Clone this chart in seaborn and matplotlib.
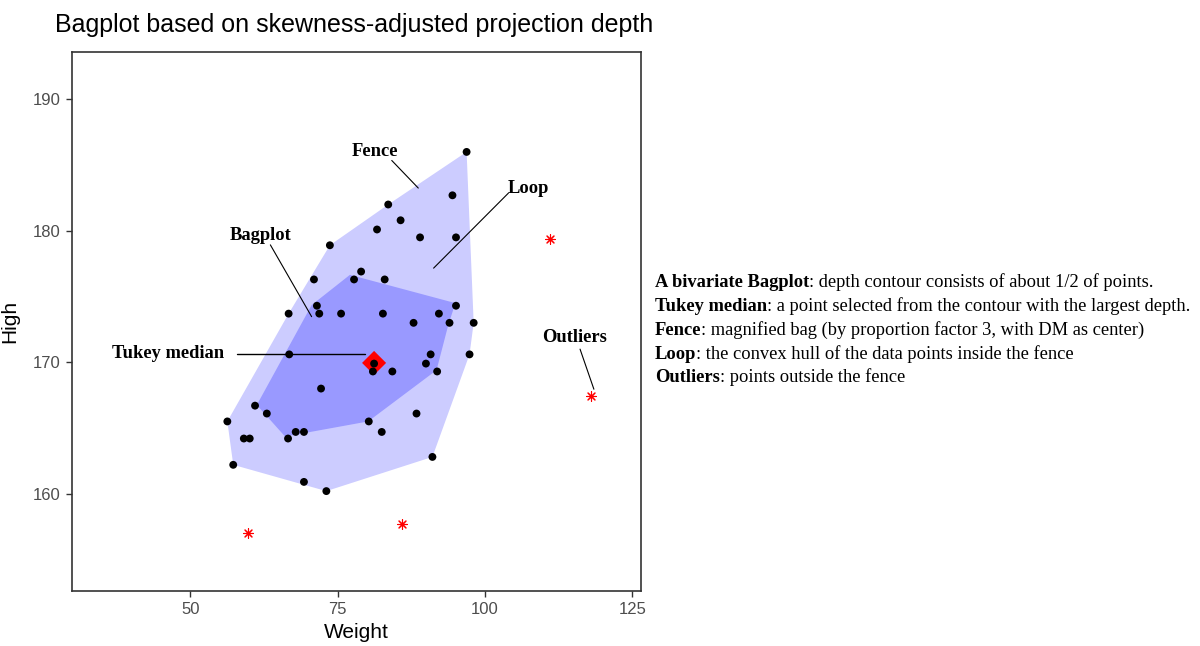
import numpy as np
import pandas as pd
import matplotlib
matplotlib.use("Agg")
import matplotlib.pyplot as plt
import seaborn as sns

# ---------------- data ----------------
weight = [96.9, 94.5, 83.6, 85.7, 81.7, 89.0, 95.1, 73.7, 79.0, 77.8,
          83.0, 71.0, 95.1, 71.5, 66.7, 71.9, 75.6, 82.7, 92.2, 87.9,
          94.0, 98.1, 66.8, 90.8, 97.4, 81.2, 81.0, 84.3, 90.0, 91.9,
          72.2, 61.0, 63.0, 56.3, 80.3, 88.4, 67.9, 69.3, 82.5, 59.1,
          60.1, 66.6, 57.3, 91.1, 69.3, 73.1]
high = [186.0, 182.7, 182.0, 180.8, 180.1, 179.5, 179.5, 178.9, 176.9, 176.3,
        176.3, 176.3, 174.3, 174.3, 173.7, 173.7, 173.7, 173.7, 173.7, 173.0,
        173.0, 173.0, 170.6, 170.6, 170.6, 169.9, 169.3, 169.3, 169.9, 169.3,
        168.0, 166.7, 166.1, 165.5, 165.5, 166.1, 164.7, 164.7, 164.7, 164.2,
        164.2, 164.2, 162.2, 162.8, 160.9, 160.2]

outlier_weight = [111.1, 118.0, 59.8, 85.9]
outlier_high = [179.4, 167.4, 157.0, 157.7]

median_weight = [81.2]
median_high = [169.95]

bag_weight = [77.1, 95.0, 93.8, 91.8, 80.2, 66.1, 61.3, 70.6]
bag_high = [176.65, 174.5, 172.85, 169.4, 165.5, 164.35, 166.75, 174.35]

title = "Bagplot based on skewness-adjusted projection depth"
legend_bold = ["A bivariate Bagplot", "Tukey median", "Fence", "Loop", "Outliers"]
legend_rest = [": depth contour consists of about 1/2 of points.",
               ": a point selected from the contour with the largest depth.",
               ": magnified bag (by proportion factor 3, with DM as center)",
               ": the convex hull of the data points inside the fence",
               ": points outside the fence"]


def convex_hull(xs, ys):
    pts = sorted(set(zip(xs, ys)))

    def cross(o, a, b):
        return (a[0] - o[0]) * (b[1] - o[1]) - (a[1] - o[1]) * (b[0] - o[0])

    lower, upper = [], []
    for p in pts:
        while len(lower) >= 2 and cross(lower[-2], lower[-1], p) <= 0:
            lower.pop()
        lower.append(p)
    for p in reversed(pts):
        while len(upper) >= 2 and cross(upper[-2], upper[-1], p) <= 0:
            upper.pop()
        upper.append(p)
    hull = lower[:-1] + upper[:-1]
    return [p[0] for p in hull], [p[1] for p in hull]


df = pd.DataFrame({"Weight": weight, "High": high})

sns.set_theme(style="white")
plt.rcParams["font.family"] = ["Liberation Sans", "DejaVu Sans"]

fig = plt.figure(figsize=(12, 6.46), dpi=100)
ax = fig.add_axes([0.0598, 0.0851, 0.4744, 0.8344])

hx, hy = convex_hull(weight, high)
ax.fill(hx, hy, color="#CCCCFF", lw=0, zorder=1)
ax.fill(bag_weight, bag_high, color="#9999FF", lw=0, zorder=2)

sns.scatterplot(x=median_weight, y=median_high, marker="D", s=150,
                color="red", edgecolor="none", ax=ax, zorder=3)
sns.scatterplot(data=df, x="Weight", y="High", color="black", s=32,
                edgecolor="none", ax=ax, zorder=4)
sns.scatterplot(x=outlier_weight, y=outlier_high, marker=(8, 2, 0), s=50,
                color="red", linewidth=0.8, ax=ax, zorder=4)

ax.set_xlim(29.9, 126.5)
ax.set_ylim(152.6, 193.6)
ax.set_xticks([50, 75, 100, 125])
ax.set_yticks([160, 170, 180, 190])
ax.set_xlabel("Weight", fontsize=15, color="black", labelpad=4)
ax.set_ylabel("High", fontsize=15, color="black", labelpad=10)
ax.tick_params(axis="both", which="major", direction="out", length=4,
               width=1, color="#333333", labelcolor="#4D4D4D", labelsize=12,
               bottom=True, left=True, pad=4)
for s in ax.spines.values():
    s.set_color("#333333")
    s.set_linewidth(1.2)

# annotations
serif = dict(fontfamily=["Liberation Serif", "DejaVu Serif"], fontweight="bold",
             fontsize=13.3, color="black")
ax.text(81.3, 186.0, "Fence", ha="center", va="center", **serif)
ax.plot([84.2, 88.7], [185.35, 183.25], color="black", lw=0.8, zorder=5)
ax.text(107.4, 183.25, "Loop", ha="center", va="center", **serif)
ax.plot([104.0, 91.3], [182.87, 177.16], color="black", lw=0.8, zorder=5)
ax.text(62.0, 179.64, "Bagplot", ha="center", va="center", **serif)
ax.plot([63.6, 70.6], [178.93, 173.47], color="black", lw=0.8, zorder=5)
ax.text(55.8, 170.63, "Tukey median", ha="right", va="center", **serif)
ax.plot([57.9, 79.7], [170.63, 170.63], color="black", lw=1.0, zorder=5)
ax.text(115.3, 171.9, "Outliers", ha="center", va="center", **serif)
ax.plot([116.15, 118.5], [171.0, 167.95], color="black", lw=0.8, zorder=5)

# title
fig.text(55 / 1200, 1 - 25 / 646, title, ha="left", va="center",
         fontsize=18, color="black")

# right-hand description
tfont = ["Liberation Serif", "DejaVu Serif"]
y0 = 283
for i, (b, r) in enumerate(zip(legend_bold, legend_rest)):
    yy = 1 - (y0 + i * 23.75) / 646
    t = fig.text(655 / 1200, yy, b, ha="left", va="center", fontsize=13.3,
                 fontweight="bold", fontfamily=tfont, color="black")
    ax.annotate(r, xy=(1, 0), xycoords=t, ha="left", va="bottom",
                fontsize=13.3, fontfamily=tfont, color="black",
                annotation_clip=False)

fig.savefig("out.png", dpi=100)
